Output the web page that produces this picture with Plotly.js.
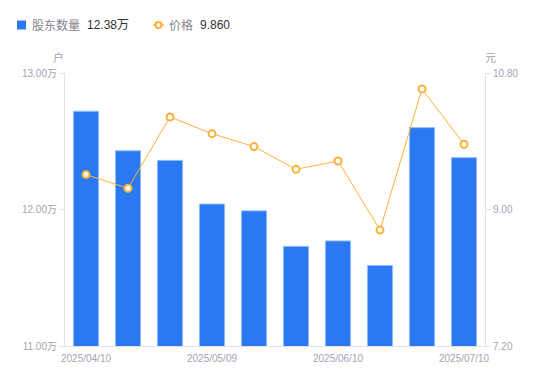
<!DOCTYPE html>
<html>
<head>
<meta charset="utf-8">
<script src="https://cdn.plot.ly/plotly-3.0.1.min.js"></script>
<style>html,body{margin:0;padding:0;background:#fff}#chart{width:550px;height:381px}</style>
</head>
<body>
<div id="chart"></div>
<script>
const dates = ['2025/04/10','2025/04/18','2025/04/30','2025/05/09','2025/05/20','2025/05/30','2025/06/10','2025/06/20','2025/06/30','2025/07/10'];
const holders = [12.72, 12.43, 12.36, 12.04, 11.99, 11.73, 11.77, 11.59, 12.60, 12.38]; // 万户
const prices = [9.46, 9.28, 10.22, 10.00, 9.83, 9.53, 9.64, 8.73, 10.59, 9.860];
const xTicks = ['2025/04/10','2025/05/09','2025/06/10','2025/07/10'];
const leftTicks = [11, 12, 13];
const rightTicks = [7.2, 9.0, 10.8];
const seriesNames = ['股东数量', '价格'];

const blue = '#2a79f3';
const orange = '#fbb03b';
const grey = '#a3a3b3';
const font = 'Liberation Sans, Arial, "Noto Sans CJK SC", sans-serif';
const cjk = '"Noto Sans CJK SC", sans-serif';

const lastH = holders[holders.length-1].toFixed(2) + '万';
const lastP = prices[prices.length-1].toFixed(3);

// plot area geometry (px) for placing legend / axis-title decorations
const M = {l: 65, r: 65, t: 73, b: 35}, W = 550, H = 381;
const PW = W - M.l - M.r, PH = H - M.t - M.b;
const px = v => (v - M.l) / PW;
const py = v => (H - M.b - v) / PH;

const traces = [
  {
    type: 'bar', x: dates, y: holders, yaxis: 'y', name: seriesNames[0],
    marker: {color: blue, line: {color: 'rgba(150,190,250,1)', width: 1}}
  },
  {
    type: 'scatter', mode: 'lines+markers', x: dates, y: prices, yaxis: 'y2', name: seriesNames[1],
    line: {color: orange, width: 1},
    marker: {symbol: 'circle', size: 7, color: '#fff', line: {color: orange, width: 2}}
  }
];

const legY = py(25);
const layout = {
  width: W, height: H,
  margin: M,
  paper_bgcolor: '#fff', plot_bgcolor: '#fff',
  font: {family: font, size: 10, color: grey},
  bargap: 0.4,
  showlegend: false,
  xaxis: {
    type: 'category', range: [-0.5, dates.length - 0.5], tickmode: 'array', tickvals: xTicks, ticktext: xTicks,
    showgrid: false, zeroline: false, showline: true, linecolor: '#e3e3e3', linewidth: 1,
    ticks: 'outside', ticklen: 3, tickcolor: 'rgba(0,0,0,0)', tickfont: {size: 10, color: grey}
  },
  yaxis: {
    range: [11, 13], tickmode: 'array', tickvals: leftTicks, ticktext: leftTicks.map(v => v.toFixed(2) + '万'),
    showgrid: false, zeroline: false, showline: true, linecolor: '#e3e3e3', linewidth: 1,
    ticks: 'outside', ticklen: 5, tickcolor: '#e3e3e3', tickfont: {size: 10, color: grey}
  },
  yaxis2: {
    overlaying: 'y', side: 'right', range: [7.2, 10.8], tickmode: 'array', tickvals: rightTicks,
    ticktext: rightTicks.map(v => v.toFixed(2)),
    showgrid: false, zeroline: false, showline: true, linecolor: '#e3e3e3', linewidth: 1,
    ticks: 'outside', ticklen: 5, tickcolor: '#e3e3e3', tickfont: {size: 10, color: grey}
  },
  shapes: [
    {type: 'rect', xref: 'paper', yref: 'paper', xsizemode: 'pixel', ysizemode: 'pixel',
     xanchor: px(21.5), yanchor: legY, x0: -4.5, x1: 4.5, y0: -4.5, y1: 4.5,
     fillcolor: blue, line: {width: 0}},
    {type: 'line', xref: 'paper', yref: 'paper', xsizemode: 'pixel', ysizemode: 'pixel',
     xanchor: px(158.5), yanchor: legY, x0: -5.5, x1: 5.5, y0: 0, y1: 0,
     line: {color: orange, width: 1.5}},
    {type: 'circle', xref: 'paper', yref: 'paper', xsizemode: 'pixel', ysizemode: 'pixel',
     xanchor: px(158.5), yanchor: legY, x0: -3, x1: 3, y0: -3, y1: 3,
     fillcolor: '#fff', line: {color: orange, width: 2}}
  ],
  annotations: [
    {text: seriesNames[0], xref: 'paper', yref: 'paper', x: px(30), y: legY, xanchor: 'left', yanchor: 'middle',
     showarrow: false, font: {family: cjk, size: 12, color: '#85858f'}},
    {text: lastH, xref: 'paper', yref: 'paper', x: px(84.5), y: legY, xanchor: 'left', yanchor: 'middle',
     showarrow: false, font: {family: font, size: 12, color: '#333'}},
    {text: seriesNames[1], xref: 'paper', yref: 'paper', x: px(167), y: legY, xanchor: 'left', yanchor: 'middle',
     showarrow: false, font: {family: cjk, size: 12, color: '#85858f'}},
    {text: lastP, xref: 'paper', yref: 'paper', x: px(197.5), y: legY, xanchor: 'left', yanchor: 'middle',
     showarrow: false, font: {family: font, size: 12, color: '#333'}},
    {text: '户', xref: 'paper', yref: 'paper', x: px(58.5), y: py(57), xanchor: 'center', yanchor: 'middle',
     showarrow: false, font: {family: cjk, size: 11, color: grey}},
    {text: '元', xref: 'paper', yref: 'paper', x: px(490.5), y: py(57), xanchor: 'center', yanchor: 'middle',
     showarrow: false, font: {family: cjk, size: 11, color: grey}}
  ]
};

Plotly.newPlot('chart', traces, layout, {displayModeBar: false, staticPlot: true});
</script>
</body>
</html>
